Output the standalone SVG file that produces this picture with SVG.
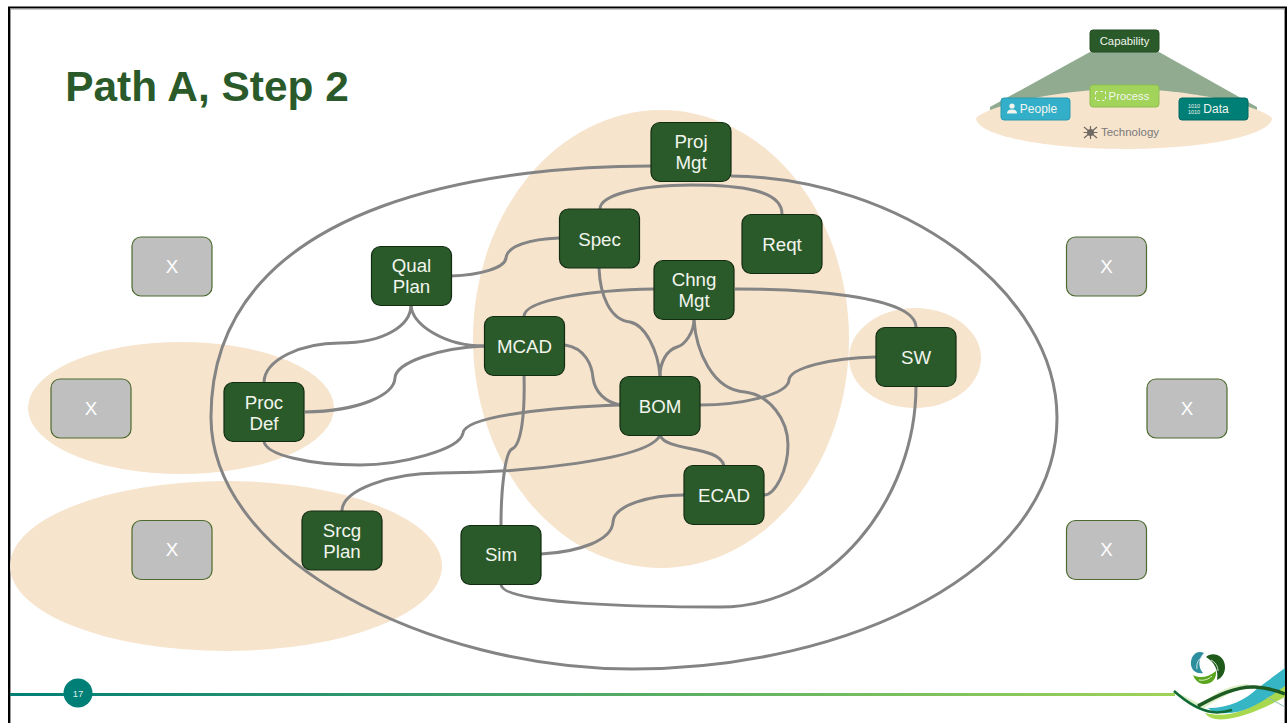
<svg xmlns="http://www.w3.org/2000/svg" width="1288" height="723" viewBox="0 0 1288 723">
<defs>
<linearGradient id="fl" x1="0" x2="1" y1="0" y2="0"><stop offset="0" stop-color="#007f77"/><stop offset="1" stop-color="#9fd356"/></linearGradient>
</defs>
<style>
text{font-family:"Liberation Sans",Arial,sans-serif;text-anchor:middle}
.blob{fill:#f6e4cd}
.n rect{fill:#2a5a2a;stroke:#122c12;stroke-width:1.2}
.n text{fill:#f2f5ee;font-size:18.700px}
.x rect{fill:#bfbfbf;stroke:#4d6b2e;stroke-width:1.2}
.x text{fill:#fff;font-size:18.700px}
#connectors path{fill:none;stroke:#848484;stroke-width:3}
</style>
<rect width="1288" height="723" fill="#fff"/>
<path d="M9 723V7.500H1286V723" fill="none" stroke="#000" stroke-width="2"/>
<path d="M10.500 723V9H1284.500V723" fill="none" stroke="#999" stroke-width="1"/>
<text x="207" y="101" font-size="42.400" font-weight="bold" fill="#2a5a2a">Path A, Step 2</text>

<g id="regions">
<ellipse class="blob" cx="661" cy="339" rx="188" ry="229"/>
<ellipse class="blob" cx="181" cy="408" rx="153" ry="66"/>
<ellipse class="blob" cx="226" cy="566" rx="216" ry="85"/>
<ellipse class="blob" cx="915" cy="358" rx="66" ry="50"/>
</g>

<g id="legend">
<path d="M1090 52H1159L1257 107V112H990V107Z" fill="#90ab90"/>
<path class="blob" d="M976 118C990 105 1060 89 1124 89C1190 89 1258 105 1272 118C1272 135 1205 149 1124 149C1043 149 976 135 976 118Z"/>
<rect x="1090" y="30" width="69" height="22" rx="3" fill="#2a5a2a" stroke="#224a22"/>
<text x="1124.500" y="45" font-size="11.300" fill="#f2f5ee">Capability</text>
<rect x="1090" y="85" width="69" height="22" rx="3" fill="#a2d35a" stroke="#8fbf50"/>
<text x="1129" y="100" font-size="11.300" fill="#f2f5ee">Process</text>
<rect x="1095.500" y="91.500" width="10" height="9" fill="none" stroke="#f2f5ee" stroke-dasharray="2.500 2.500"/>
<rect x="1001" y="98" width="69" height="22" rx="3" fill="#33afc9" stroke="#2a9ab0"/>
<circle cx="1012" cy="106" r="2.600" fill="#f2f5ee"/>
<path d="M1007 113.500Q1007 109.500 1012 109.500Q1017 109.500 1017 113.500Z" fill="#f2f5ee"/>
<text x="1038.500" y="113" font-size="12" fill="#f2f5ee">People</text>
<rect x="1179" y="98" width="69" height="22" rx="3" fill="#007f77" stroke="#006a63"/>
<text x="1194" y="107.500" font-size="5.500" fill="#f2f5ee">1010</text>
<text x="1194" y="114" font-size="5.500" fill="#f2f5ee">1010</text>
<text x="1216" y="113" font-size="12" fill="#f2f5ee">Data</text>
<text x="1130" y="136" font-size="11.500" fill="#7a7a7a">Technology</text>
<circle cx="1090.500" cy="132.500" r="3.500" fill="#6f6a63"/>
<path d="M1084 127L1097 138M1097 127L1084 138M1083.500 132.500H1097.500M1090.500 126V139" stroke="#6f6a63" stroke-width="1.200" fill="none"/>
</g>

<g id="connectors">
<path d="M651 166C520 166 210 190 211 418C212 560 430 669 632 669C850 669 1057 570 1057 418C1057 290 900 178 731 176"/>
<path d="M600 209C600 195 640 185 691 185C740 185 782 190 782 214"/>
<path d="M451 276C480 275 505 268 506 258C507 246 530 239 559 238"/>
<path d="M599 268C600 295 610 320 630 322C645 325 658 350 660 376"/>
<path d="M524 316C525 300 590 290 654 289"/>
<path d="M735 289C800 289 915 295 916 327"/>
<path d="M694 320C694 332 685 345 677 347C667 350 660 362 660 376"/>
<path d="M694 320C696 350 712 390 745 392C770 395 788 420 788 445C788 470 775 495 764 495"/>
<path d="M411 305C411 325 385 343 340 343C300 343 265 360 264 382"/>
<path d="M411 305C412 325 445 346 484 346"/>
<path d="M484 346C440 348 396 362 395 378C394 395 360 411 305 412"/>
<path d="M565 345C585 348 592 365 593 378C595 392 605 402 620 405"/>
<path d="M524 375C525 410 522 445 512 449C505 452 501 490 501 525"/>
<path d="M620 405C560 407 465 415 463 433C460 450 400 465 360 465C310 465 265 455 264 441"/>
<path d="M700 405C740 405 788 395 789 380C790 368 830 358 876 357"/>
<path d="M660 435C650 460 520 473 440 473C390 473 342 490 342 511"/>
<path d="M660 435C665 452 720 445 724 466"/>
<path d="M541 554C580 552 612 540 613 522C614 505 650 495 684 495"/>
<path d="M916 386C916 500 830 607 720 607C650 607 500 605 501 584"/>
</g>

<g id="proj" class="n"><rect x="651" y="122.500" width="80" height="59" rx="9"/><text x="691" y="148">Proj</text><text x="691" y="169">Mgt</text></g>
<g id="spec" class="n"><rect x="559.500" y="209" width="80" height="59" rx="9"/><text x="599.500" y="246">Spec</text></g>
<g id="reqt" class="n"><rect x="742" y="214.500" width="80" height="59" rx="9"/><text x="782" y="251">Reqt</text></g>
<g id="chng" class="n"><rect x="654" y="260.500" width="80" height="59" rx="9"/><text x="694" y="286">Chng</text><text x="694" y="307">Mgt</text></g>
<g id="qual" class="n"><rect x="371.500" y="246.500" width="80" height="59" rx="9"/><text x="411.500" y="272">Qual</text><text x="411.500" y="293">Plan</text></g>
<g id="mcad" class="n"><rect x="484.500" y="316.500" width="80" height="59" rx="9"/><text x="524.500" y="353">MCAD</text></g>
<g id="bom" class="n"><rect x="620" y="376.500" width="80" height="59" rx="9"/><text x="660" y="413">BOM</text></g>
<g id="sw" class="n"><rect x="876" y="327.500" width="80" height="59" rx="9"/><text x="916" y="364">SW</text></g>
<g id="proc" class="n"><rect x="224" y="382.500" width="80" height="59" rx="9"/><text x="264" y="409">Proc</text><text x="264" y="430">Def</text></g>
<g id="ecad" class="n"><rect x="684" y="465.500" width="80" height="59" rx="9"/><text x="724" y="502">ECAD</text></g>
<g id="srcg" class="n"><rect x="302" y="511" width="80" height="59" rx="9"/><text x="342" y="537">Srcg</text><text x="342" y="558">Plan</text></g>
<g id="sim" class="n"><rect x="461" y="525.500" width="80" height="59" rx="9"/><text x="501" y="561">Sim</text></g>

<g id="x1" class="x"><rect x="132" y="237" width="80" height="59" rx="9"/><text x="172" y="273">X</text></g>
<g id="x2" class="x"><rect x="51" y="379" width="80" height="59" rx="9"/><text x="91" y="415">X</text></g>
<g id="x3" class="x"><rect x="132" y="520.500" width="80" height="59" rx="9"/><text x="172" y="556">X</text></g>
<g id="x4" class="x"><rect x="1066.500" y="237" width="80" height="59" rx="9"/><text x="1106.500" y="273">X</text></g>
<g id="x5" class="x"><rect x="1147" y="379" width="80" height="59" rx="9"/><text x="1187" y="415">X</text></g>
<g id="x6" class="x"><rect x="1066.500" y="520.500" width="80" height="59" rx="9"/><text x="1106.500" y="556">X</text></g>

<g id="footer">
<rect x="10" y="693" width="1165" height="3" fill="url(#fl)"/>
<circle cx="78" cy="693" r="14.500" fill="#007f77"/>
<text x="78" y="697" font-size="9.500" fill="#d9efe9">17</text>
<path d="M1172 691C1182 694 1192 700 1200 704C1215 692 1235 683 1250 684C1232 692 1212 702 1203 709C1190 705 1180 698 1172 691Z" fill="#dcefc6"/>
<path d="M1205 713C1225 718 1245 712 1262 700L1285 680V697C1265 708 1235 722 1215 719C1210 718 1207 716 1205 713Z" fill="#a8d84e"/>
<path d="M1208 708C1230 708 1245 700 1258 688L1285 668V686C1265 700 1245 715 1222 713C1215 713 1211 711 1208 708Z" fill="#36b5c4"/>
<path d="M1174 691C1184 700 1198 710 1212 712C1218 713 1225 712 1232 710" fill="none" stroke="#0f6a35" stroke-width="2.500"/>
<path d="M1198 706C1215 697 1235 686 1255 687C1268 688 1278 691 1285 694" fill="none" stroke="#1d5a24" stroke-width="3.500"/>
<path d="M1267 697L1285 707" fill="none" stroke="#8fbfb5" stroke-width="1"/>
<path d="M1204 653C1196 649 1190 657 1191 665C1192 671 1197 674 1203 673C1198 667 1198 659 1204 653Z" fill="#2d8f9e"/>
<path d="M1206 657C1212 651 1225 655 1225 667C1225 673 1222 678 1217 680C1219 670 1214 662 1206 657Z" fill="#1f5a1a"/>
<path d="M1193 675C1200 679 1209 677 1216 671C1217 679 1211 685 1203 684C1198 683 1195 680 1193 675Z" fill="#5ba51f"/>
<path d="M1197 669C1196 663 1199 659 1202 657" fill="none" stroke="#cfe5e5" stroke-width="1"/>
<path d="M1211 660C1215 662 1218 666 1218 671" fill="none" stroke="#cfe0c8" stroke-width="1"/>
<path d="M1199 680C1204 681 1209 679 1212 676" fill="none" stroke="#dcedc8" stroke-width="1"/>
</g>
</svg>
